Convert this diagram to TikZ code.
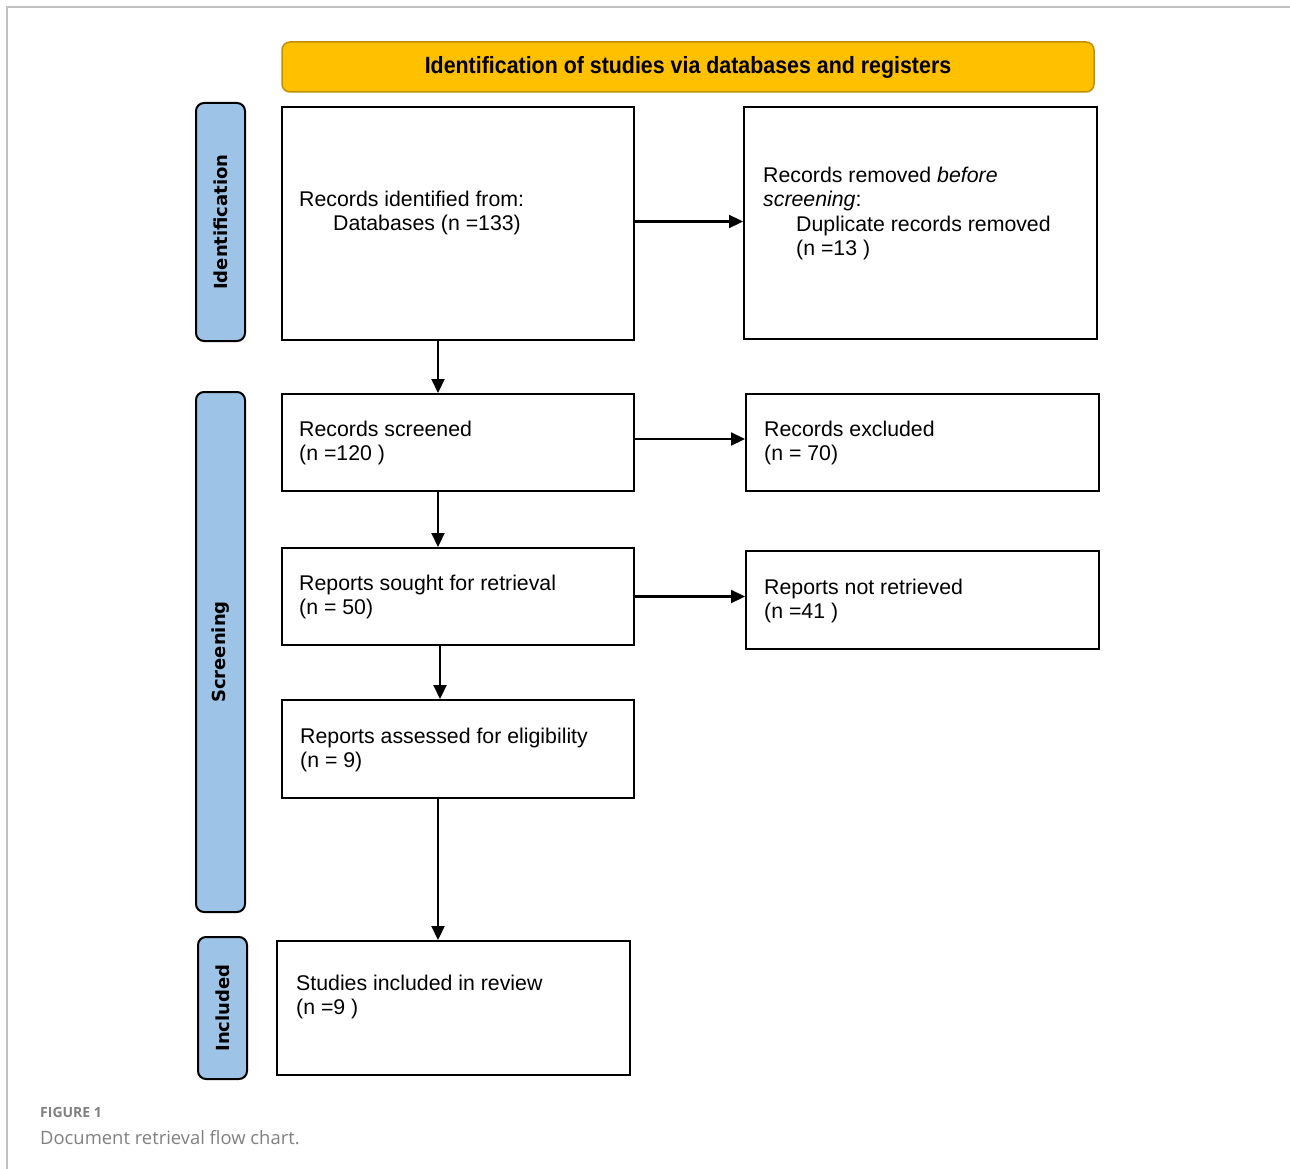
\documentclass[tikz,border=0pt]{standalone}
\usepackage{fontspec}
\setmainfont{Liberation Sans}
\newfontfamily\sidefont{DejaVu Sans}
\newfontfamily\capfont{Open Sans}
\usetikzlibrary{arrows.meta,calc}
\definecolor{gold}{HTML}{FFC000}
\definecolor{goldedge}{HTML}{C09000}
\definecolor{sideblue}{HTML}{9DC3E6}
\definecolor{framegray}{HTML}{C0C0C0}
\definecolor{capgray}{HTML}{808080}
\begin{document}
\begin{tikzpicture}[x=1pt,y=-1pt,
  box/.style={draw=black,line width=2pt,fill=white,inner sep=0pt},
  side/.style={draw=black,line width=2pt,fill=sideblue,rounded corners=8pt,minimum width=49pt,inner sep=0pt,font=\sidefont\bfseries\fontsize{18}{20}\selectfont},
  head/.style={draw=goldedge,line width=1.5pt,fill=gold,rounded corners=8pt,minimum width=812pt,minimum height=50pt,inner sep=0pt,font=\bfseries\fontsize{23.5}{26}\selectfont},
  boxtext/.style={anchor=base west,align=left,inner sep=0pt,font=\fontsize{21.3}{24.5}\selectfont},
  flow/.style={line width=2.2pt,-{Triangle[length=14pt,width=13pt]}},
  captext/.style={anchor=base west,inner sep=0pt,text=capgray}]
\useasboundingbox (0,0) rectangle (1290,1169);
\draw[framegray,line width=1.2pt] (1290,7) -- (7,7) -- (7,1169);

% header
\node[head] (h) at (688,67) {\raisebox{-3pt}{\scalebox{0.91}[1]{Identification of studies via databases and registers}}};

% side bars
\node[side,minimum height=238pt] (s1) at (220.5,222) {\rotatebox{90}{Identification}};
\node[side,minimum height=520pt] (s2) at (220.5,652) {\rotatebox{90}{Screening}};
\node[side,minimum height=142pt] (s3) at (222.5,1008) {\rotatebox{90}{Included}};

% boxes
\node[box,minimum width=352pt,minimum height=233pt] (b1) at (458,223.5) {};
\node[box,minimum width=353pt,minimum height=232pt] (b2) at (920.5,223) {};
\node[box,minimum width=352pt,minimum height=97pt] (b3) at (458,442.5) {};
\node[box,minimum width=353pt,minimum height=97pt] (b4) at (922.5,442.5) {};
\node[box,minimum width=352pt,minimum height=97pt] (b5) at (458,596.5) {};
\node[box,minimum width=353pt,minimum height=98pt] (b6) at (922.5,600) {};
\node[box,minimum width=352pt,minimum height=98pt] (b7) at (458,749) {};
\node[box,minimum width=353pt,minimum height=134pt] (b8) at (453.5,1008) {};

% texts (anchor = baseline of last line)
\node[boxtext] (t1) at (299,230.5) {Records identified from:\\\hspace*{34pt}Databases (n =133)};
\node[boxtext] (t2) at (763,255.5) {Records removed \textit{before}\\\textit{screening}:\\\hspace*{33pt}Duplicate records removed\\\hspace*{33pt}(n =13 )};
\node[boxtext] (t3) at (299,460.5) {Records screened\\(n =120 )};
\node[boxtext] (t4) at (764,460.5) {Records excluded\\(n = 70)};
\node[boxtext] (t5) at (299,614.5) {Reports sought for retrieval\\(n = 50)};
\node[boxtext] (t6) at (764,618.5) {Reports not retrieved\\(n =41 )};
\node[boxtext] (t7) at (300,767.5) {Reports assessed for eligibility\\(n = 9)};
\node[boxtext] (t8) at (296,1014.5) {Studies included in review\\(n =9 )};

% connectors
\draw[flow] ([yshift=2pt]b1.east) -- ([yshift=2pt]b1.east -| b2.west);
\draw[flow] ([xshift=-20pt]b1.south) -- ([xshift=-20pt]b1.south |- b3.north);
\draw[flow] ([yshift=3.5pt]b3.east) -- ([yshift=3.5pt]b3.east -| b4.west);
\draw[flow] ([xshift=-20pt]b3.south) -- ([xshift=-20pt]b3.south |- b5.north);
\draw[flow] (b5.east) -- (b5.east -| b6.west);
\draw[flow] ([xshift=-18pt]b5.south) -- ([xshift=-18pt]b5.south |- b7.north);
\draw[flow] ([xshift=-20pt]b7.south) -- ([xshift=-20pt]b7.south |- b8.north);

% caption
\node[captext,font=\capfont\bfseries\fontsize{14}{16}\selectfont] (c1) at (40,1117) {FIGURE 1};
\node[captext,font=\capfont\fontsize{18.4}{20}\selectfont] (c2) at (40,1144) {Document retrieval flow chart.};
\end{tikzpicture}
\end{document}
